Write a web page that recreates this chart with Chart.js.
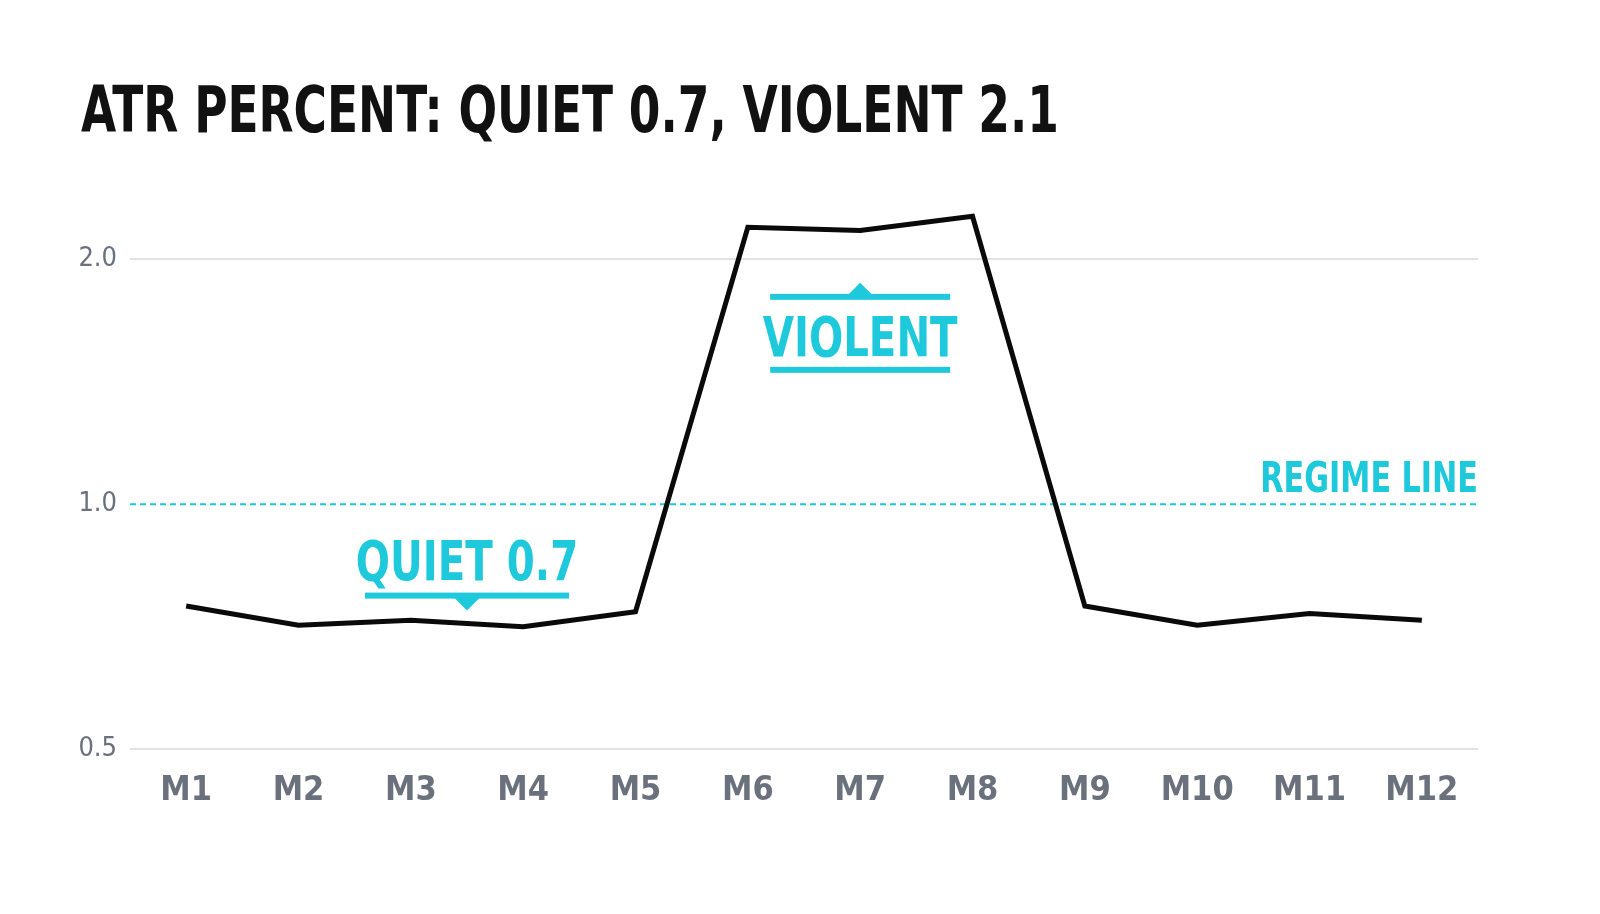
<!DOCTYPE html>
<html><head><meta charset="utf-8">
<script src="https://cdn.jsdelivr.net/npm/chart.js@4"></script>
<style>html,body{margin:0;background:#fff}#w{width:1600px;height:914px}</style>
</head><body><div id="w"><canvas id="c"></canvas></div>
<script>
const categories=['M1','M2','M3','M4','M5','M6','M7','M8','M9','M10','M11','M12'];
const atrPercent=[0.75,0.71,0.72,0.707,0.738,2.19,2.17,2.26,0.75,0.71,0.734,0.72];
const yTicks=[0.5,1.0,2.0];
const regimeValue=1.0;
const titleText='ATR PERCENT: QUIET 0.7, VIOLENT 2.1';
const CYAN='#1fc9dc';
const FONT='"DejaVu Sans Condensed","DejaVu Sans",sans-serif';

const deco={id:'deco',
 beforeDatasetsDraw(ch){const c=ch.ctx,a=ch.chartArea,x=ch.scales.x,y=ch.scales.y;
  c.save();const ry=y.getPixelForValue(regimeValue);
  c.strokeStyle=CYAN;c.lineWidth=2;c.setLineDash([6,4]);
  c.beginPath();c.moveTo(a.left,ry);c.lineTo(a.right,ry);c.stroke();c.restore();},
 afterDatasetsDraw(ch){const c=ch.ctx,a=ch.chartArea,x=ch.scales.x,y=ch.scales.y;
  c.save();
  c.fillStyle='#111';c.font='bold 64px '+FONT;c.textBaseline='alphabetic';c.textAlign='left';
  c.save();c.translate(81,132);c.scale(0.79,1);c.fillText(titleText,0,0);c.restore();
  c.fillStyle=CYAN;c.strokeStyle=CYAN;
  const txt=(t,cx,by,sz,al)=>{c.save();c.font='bold '+sz+'px '+FONT;c.translate(cx,by);c.scale(0.8,1);c.textAlign=al;c.fillText(t,0,0);c.restore();};
  const ry=y.getPixelForValue(regimeValue);
  txt('REGIME LINE',a.right,ry-12,42,'right');
  const vx=x.getPixelForValue(6),vy=y.getPixelForValue(1.62);
  txt('VIOLENT',vx,vy+22,56,'center');
  c.fillRect(vx-90,vy-40,180,6);c.fillRect(vx-90,vy+33,180,6);
  c.beginPath();c.moveTo(vx-14,vy-37);c.lineTo(vx,vy-51);c.lineTo(vx+14,vy-37);c.fill();
  const qx=(x.getPixelForValue(2)+x.getPixelForValue(3))/2,qy=y.getPixelForValue(0.86);
  txt('QUIET 0.7',qx,qy+22,56,'center');
  c.fillRect(qx-102,qy+35,204,6);
  c.beginPath();c.moveTo(qx-15,qy+38);c.lineTo(qx,qy+53);c.lineTo(qx+15,qy+38);c.fill();
  c.restore();}};

new Chart(document.getElementById('c'),{type:'line',
 data:{labels:categories,datasets:[{data:atrPercent,borderColor:'#0a0a0a',borderWidth:5,pointRadius:0,tension:0,fill:false}]},
 options:{responsive:true,maintainAspectRatio:false,animation:false,
  layout:{padding:{top:195,right:122,bottom:88,left:0}},
  plugins:{legend:{display:false},tooltip:{enabled:false}},
  scales:{
   x:{offset:true,grid:{display:false},border:{display:false},
      ticks:{color:'#6b717c',font:{family:FONT,size:34,weight:'bold'},padding:14}},
   y:{type:'logarithmic',min:0.5,max:2.4,border:{display:false},
      afterBuildTicks(s){s.ticks=yTicks.map(v=>({value:v}));},
      afterFit(s){s.width=130;},
      grid:{color:ctx=>ctx.tick&&ctx.tick.value===regimeValue?'rgba(0,0,0,0)':'#e2e2e2',lineWidth:2,drawTicks:false},
      ticks:{color:'#6b717c',font:{family:FONT,size:27},padding:13,callback:v=>Number(v).toFixed(1)}}}},
 plugins:[deco]});
</script></body></html>
